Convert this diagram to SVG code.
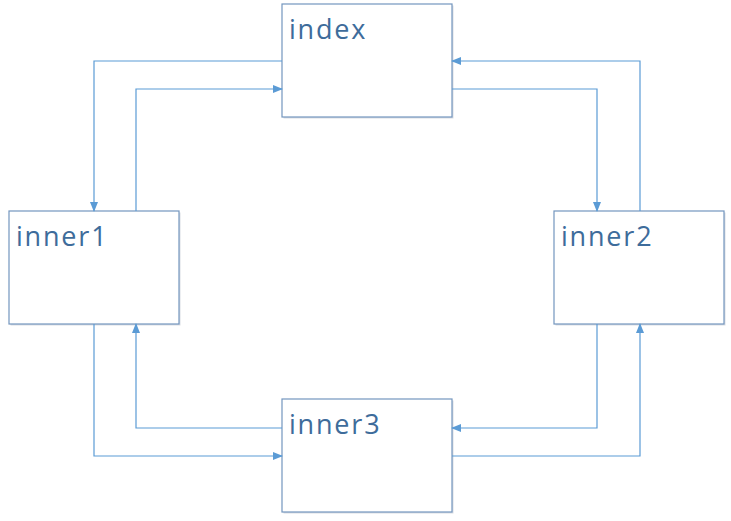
<svg xmlns="http://www.w3.org/2000/svg" width="731" height="521" viewBox="0 0 731 521">
<style>
.box{fill:#fff;stroke:#7396BE;stroke-width:1.2}
.sh{fill:#d9dde3}
.lbl{font-family:"Open Sans","Noto Sans",sans-serif;font-size:27px;letter-spacing:1.8px;fill:#3E6C9B}
.c{fill:none;stroke:#5B9BD5;stroke-width:1.2}
</style>
<defs>
<marker id="a" markerWidth="10" markerHeight="8" refX="9" refY="4" orient="auto" markerUnits="userSpaceOnUse">
<path d="M0,0 L10,4 L0,8 z" fill="#5B9BD5"/>
</marker>
</defs>
<rect width="731" height="521" fill="#fff"/>
<g id="index"><rect class="sh" x="283.5" y="5.5" width="170" height="113"/><rect class="box" x="282" y="4" width="170" height="113"/><text class="lbl" x="289" y="39">index</text></g>
<g id="inner1"><rect class="sh" x="10.5" y="212.5" width="170" height="113"/><rect class="box" x="9" y="211" width="170" height="113"/><text class="lbl" x="16" y="246">inner1</text></g>
<g id="inner2"><rect class="sh" x="555.5" y="212.5" width="170" height="113"/><rect class="box" x="554" y="211" width="170" height="113"/><text class="lbl" x="561" y="246">inner2</text></g>
<g id="inner3"><rect class="sh" x="283.5" y="400.5" width="170" height="113"/><rect class="box" x="282" y="399" width="170" height="113"/><text class="lbl" x="289" y="434">inner3</text></g>
<g id="connectors">
<path class="c" d="M282,61 H94 V211" marker-end="url(#a)"/>
<path class="c" d="M136,211 V89 H282" marker-end="url(#a)"/>
<path class="c" d="M452,89 H597 V211" marker-end="url(#a)"/>
<path class="c" d="M640,211 V61 H452" marker-end="url(#a)"/>
<path class="c" d="M597,324 V428 H452" marker-end="url(#a)"/>
<path class="c" d="M452,456 H640 V324" marker-end="url(#a)"/>
<path class="c" d="M282,428 H136 V324" marker-end="url(#a)"/>
<path class="c" d="M94,324 V456 H282" marker-end="url(#a)"/>
</g>
</svg>
